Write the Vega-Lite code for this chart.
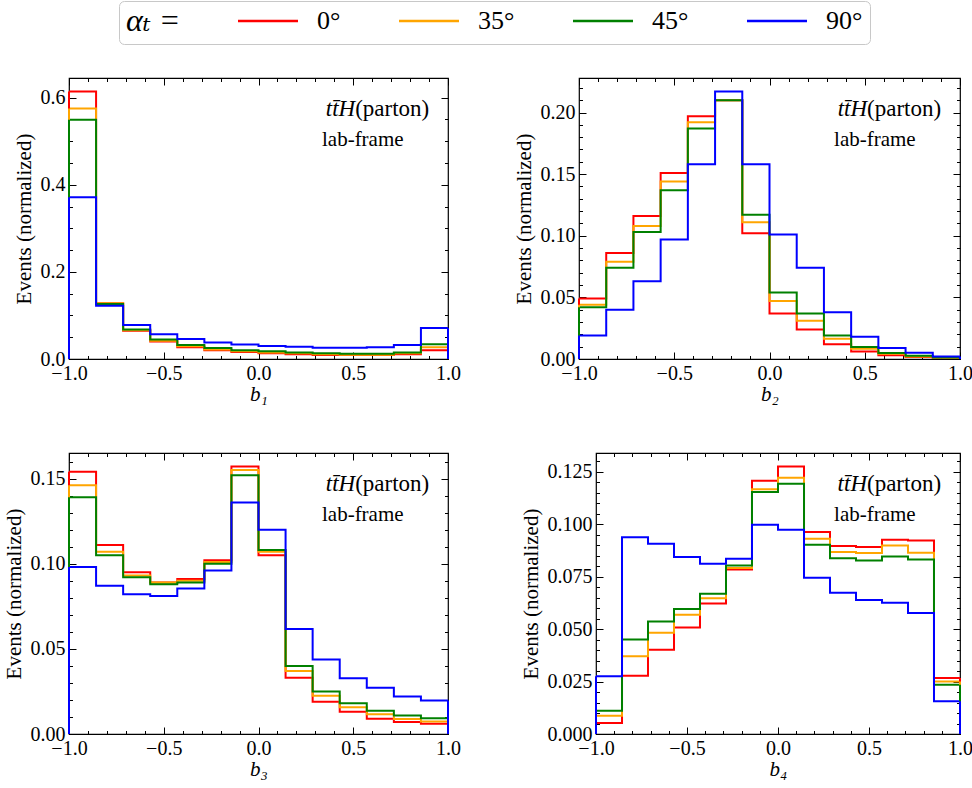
{
  "$schema": "https://vega.github.io/schema/vega-lite/v6.json",
  "padding": {"left": 2, "top": 0, "right": 0, "bottom": 0},
  "datasets": {
    "hist": [
      {"panel":"b1","alpha":"0°","lo":-1,"hi":-0.8571,"value":0.614},
      {"panel":"b1","alpha":"0°","lo":-0.8571,"hi":-0.7143,"value":0.128},
      {"panel":"b1","alpha":"0°","lo":-0.7143,"hi":-0.5714,"value":0.065},
      {"panel":"b1","alpha":"0°","lo":-0.5714,"hi":-0.4286,"value":0.040},
      {"panel":"b1","alpha":"0°","lo":-0.4286,"hi":-0.2857,"value":0.027},
      {"panel":"b1","alpha":"0°","lo":-0.2857,"hi":-0.1429,"value":0.020},
      {"panel":"b1","alpha":"0°","lo":-0.1429,"hi":0,"value":0.016},
      {"panel":"b1","alpha":"0°","lo":0,"hi":0.1429,"value":0.013},
      {"panel":"b1","alpha":"0°","lo":0.1429,"hi":0.2857,"value":0.011},
      {"panel":"b1","alpha":"0°","lo":0.2857,"hi":0.4286,"value":0.009},
      {"panel":"b1","alpha":"0°","lo":0.4286,"hi":0.5714,"value":0.009},
      {"panel":"b1","alpha":"0°","lo":0.5714,"hi":0.7143,"value":0.009},
      {"panel":"b1","alpha":"0°","lo":0.7143,"hi":0.8571,"value":0.011},
      {"panel":"b1","alpha":"0°","lo":0.8571,"hi":1,"value":0.020},
      {"panel":"b1","alpha":"35°","lo":-1,"hi":-0.8571,"value":0.575},
      {"panel":"b1","alpha":"35°","lo":-0.8571,"hi":-0.7143,"value":0.128},
      {"panel":"b1","alpha":"35°","lo":-0.7143,"hi":-0.5714,"value":0.066},
      {"panel":"b1","alpha":"35°","lo":-0.5714,"hi":-0.4286,"value":0.042},
      {"panel":"b1","alpha":"35°","lo":-0.4286,"hi":-0.2857,"value":0.029},
      {"panel":"b1","alpha":"35°","lo":-0.2857,"hi":-0.1429,"value":0.022},
      {"panel":"b1","alpha":"35°","lo":-0.1429,"hi":0,"value":0.018},
      {"panel":"b1","alpha":"35°","lo":0,"hi":0.1429,"value":0.015},
      {"panel":"b1","alpha":"35°","lo":0.1429,"hi":0.2857,"value":0.013},
      {"panel":"b1","alpha":"35°","lo":0.2857,"hi":0.4286,"value":0.011},
      {"panel":"b1","alpha":"35°","lo":0.4286,"hi":0.5714,"value":0.010},
      {"panel":"b1","alpha":"35°","lo":0.5714,"hi":0.7143,"value":0.010},
      {"panel":"b1","alpha":"35°","lo":0.7143,"hi":0.8571,"value":0.013},
      {"panel":"b1","alpha":"35°","lo":0.8571,"hi":1,"value":0.027},
      {"panel":"b1","alpha":"45°","lo":-1,"hi":-0.8571,"value":0.549},
      {"panel":"b1","alpha":"45°","lo":-0.8571,"hi":-0.7143,"value":0.126},
      {"panel":"b1","alpha":"45°","lo":-0.7143,"hi":-0.5714,"value":0.068},
      {"panel":"b1","alpha":"45°","lo":-0.5714,"hi":-0.4286,"value":0.045},
      {"panel":"b1","alpha":"45°","lo":-0.4286,"hi":-0.2857,"value":0.032},
      {"panel":"b1","alpha":"45°","lo":-0.2857,"hi":-0.1429,"value":0.025},
      {"panel":"b1","alpha":"45°","lo":-0.1429,"hi":0,"value":0.020},
      {"panel":"b1","alpha":"45°","lo":0,"hi":0.1429,"value":0.018},
      {"panel":"b1","alpha":"45°","lo":0.1429,"hi":0.2857,"value":0.015},
      {"panel":"b1","alpha":"45°","lo":0.2857,"hi":0.4286,"value":0.013},
      {"panel":"b1","alpha":"45°","lo":0.4286,"hi":0.5714,"value":0.012},
      {"panel":"b1","alpha":"45°","lo":0.5714,"hi":0.7143,"value":0.012},
      {"panel":"b1","alpha":"45°","lo":0.7143,"hi":0.8571,"value":0.015},
      {"panel":"b1","alpha":"45°","lo":0.8571,"hi":1,"value":0.034},
      {"panel":"b1","alpha":"90°","lo":-1,"hi":-0.8571,"value":0.371},
      {"panel":"b1","alpha":"90°","lo":-0.8571,"hi":-0.7143,"value":0.122},
      {"panel":"b1","alpha":"90°","lo":-0.7143,"hi":-0.5714,"value":0.078},
      {"panel":"b1","alpha":"90°","lo":-0.5714,"hi":-0.4286,"value":0.057},
      {"panel":"b1","alpha":"90°","lo":-0.4286,"hi":-0.2857,"value":0.046},
      {"panel":"b1","alpha":"90°","lo":-0.2857,"hi":-0.1429,"value":0.038},
      {"panel":"b1","alpha":"90°","lo":-0.1429,"hi":0,"value":0.033},
      {"panel":"b1","alpha":"90°","lo":0,"hi":0.1429,"value":0.030},
      {"panel":"b1","alpha":"90°","lo":0.1429,"hi":0.2857,"value":0.028},
      {"panel":"b1","alpha":"90°","lo":0.2857,"hi":0.4286,"value":0.026},
      {"panel":"b1","alpha":"90°","lo":0.4286,"hi":0.5714,"value":0.026},
      {"panel":"b1","alpha":"90°","lo":0.5714,"hi":0.7143,"value":0.027},
      {"panel":"b1","alpha":"90°","lo":0.7143,"hi":0.8571,"value":0.032},
      {"panel":"b1","alpha":"90°","lo":0.8571,"hi":1,"value":0.071},

      {"panel":"b2","alpha":"0°","lo":-1,"hi":-0.8571,"value":0.049},
      {"panel":"b2","alpha":"0°","lo":-0.8571,"hi":-0.7143,"value":0.086},
      {"panel":"b2","alpha":"0°","lo":-0.7143,"hi":-0.5714,"value":0.116},
      {"panel":"b2","alpha":"0°","lo":-0.5714,"hi":-0.4286,"value":0.151},
      {"panel":"b2","alpha":"0°","lo":-0.4286,"hi":-0.2857,"value":0.197},
      {"panel":"b2","alpha":"0°","lo":-0.2857,"hi":-0.1429,"value":0.210},
      {"panel":"b2","alpha":"0°","lo":-0.1429,"hi":0,"value":0.102},
      {"panel":"b2","alpha":"0°","lo":0,"hi":0.1429,"value":0.037},
      {"panel":"b2","alpha":"0°","lo":0.1429,"hi":0.2857,"value":0.024},
      {"panel":"b2","alpha":"0°","lo":0.2857,"hi":0.4286,"value":0.012},
      {"panel":"b2","alpha":"0°","lo":0.4286,"hi":0.5714,"value":0.006},
      {"panel":"b2","alpha":"0°","lo":0.5714,"hi":0.7143,"value":0.003},
      {"panel":"b2","alpha":"0°","lo":0.7143,"hi":0.8571,"value":0.0016},
      {"panel":"b2","alpha":"0°","lo":0.8571,"hi":1,"value":0.001},
      {"panel":"b2","alpha":"35°","lo":-1,"hi":-0.8571,"value":0.044},
      {"panel":"b2","alpha":"35°","lo":-0.8571,"hi":-0.7143,"value":0.079},
      {"panel":"b2","alpha":"35°","lo":-0.7143,"hi":-0.5714,"value":0.108},
      {"panel":"b2","alpha":"35°","lo":-0.5714,"hi":-0.4286,"value":0.144},
      {"panel":"b2","alpha":"35°","lo":-0.4286,"hi":-0.2857,"value":0.192},
      {"panel":"b2","alpha":"35°","lo":-0.2857,"hi":-0.1429,"value":0.210},
      {"panel":"b2","alpha":"35°","lo":-0.1429,"hi":0,"value":0.111},
      {"panel":"b2","alpha":"35°","lo":0,"hi":0.1429,"value":0.047},
      {"panel":"b2","alpha":"35°","lo":0.1429,"hi":0.2857,"value":0.031},
      {"panel":"b2","alpha":"35°","lo":0.2857,"hi":0.4286,"value":0.0165},
      {"panel":"b2","alpha":"35°","lo":0.4286,"hi":0.5714,"value":0.0084},
      {"panel":"b2","alpha":"35°","lo":0.5714,"hi":0.7143,"value":0.0043},
      {"panel":"b2","alpha":"35°","lo":0.7143,"hi":0.8571,"value":0.002},
      {"panel":"b2","alpha":"35°","lo":0.8571,"hi":1,"value":0.001},
      {"panel":"b2","alpha":"45°","lo":-1,"hi":-0.8571,"value":0.042},
      {"panel":"b2","alpha":"45°","lo":-0.8571,"hi":-0.7143,"value":0.074},
      {"panel":"b2","alpha":"45°","lo":-0.7143,"hi":-0.5714,"value":0.103},
      {"panel":"b2","alpha":"45°","lo":-0.5714,"hi":-0.4286,"value":0.137},
      {"panel":"b2","alpha":"45°","lo":-0.4286,"hi":-0.2857,"value":0.187},
      {"panel":"b2","alpha":"45°","lo":-0.2857,"hi":-0.1429,"value":0.210},
      {"panel":"b2","alpha":"45°","lo":-0.1429,"hi":0,"value":0.117},
      {"panel":"b2","alpha":"45°","lo":0,"hi":0.1429,"value":0.054},
      {"panel":"b2","alpha":"45°","lo":0.1429,"hi":0.2857,"value":0.037},
      {"panel":"b2","alpha":"45°","lo":0.2857,"hi":0.4286,"value":0.019},
      {"panel":"b2","alpha":"45°","lo":0.4286,"hi":0.5714,"value":0.0098},
      {"panel":"b2","alpha":"45°","lo":0.5714,"hi":0.7143,"value":0.0049},
      {"panel":"b2","alpha":"45°","lo":0.7143,"hi":0.8571,"value":0.0027},
      {"panel":"b2","alpha":"45°","lo":0.8571,"hi":1,"value":0.0012},
      {"panel":"b2","alpha":"90°","lo":-1,"hi":-0.8571,"value":0.019},
      {"panel":"b2","alpha":"90°","lo":-0.8571,"hi":-0.7143,"value":0.040},
      {"panel":"b2","alpha":"90°","lo":-0.7143,"hi":-0.5714,"value":0.063},
      {"panel":"b2","alpha":"90°","lo":-0.5714,"hi":-0.4286,"value":0.097},
      {"panel":"b2","alpha":"90°","lo":-0.4286,"hi":-0.2857,"value":0.158},
      {"panel":"b2","alpha":"90°","lo":-0.2857,"hi":-0.1429,"value":0.217},
      {"panel":"b2","alpha":"90°","lo":-0.1429,"hi":0,"value":0.158},
      {"panel":"b2","alpha":"90°","lo":0,"hi":0.1429,"value":0.101},
      {"panel":"b2","alpha":"90°","lo":0.1429,"hi":0.2857,"value":0.074},
      {"panel":"b2","alpha":"90°","lo":0.2857,"hi":0.4286,"value":0.038},
      {"panel":"b2","alpha":"90°","lo":0.4286,"hi":0.5714,"value":0.018},
      {"panel":"b2","alpha":"90°","lo":0.5714,"hi":0.7143,"value":0.009},
      {"panel":"b2","alpha":"90°","lo":0.7143,"hi":0.8571,"value":0.005},
      {"panel":"b2","alpha":"90°","lo":0.8571,"hi":1,"value":0.002},

      {"panel":"b3","alpha":"0°","lo":-1,"hi":-0.8571,"value":0.154},
      {"panel":"b3","alpha":"0°","lo":-0.8571,"hi":-0.7143,"value":0.111},
      {"panel":"b3","alpha":"0°","lo":-0.7143,"hi":-0.5714,"value":0.095},
      {"panel":"b3","alpha":"0°","lo":-0.5714,"hi":-0.4286,"value":0.089},
      {"panel":"b3","alpha":"0°","lo":-0.4286,"hi":-0.2857,"value":0.091},
      {"panel":"b3","alpha":"0°","lo":-0.2857,"hi":-0.1429,"value":0.102},
      {"panel":"b3","alpha":"0°","lo":-0.1429,"hi":0,"value":0.157},
      {"panel":"b3","alpha":"0°","lo":0,"hi":0.1429,"value":0.105},
      {"panel":"b3","alpha":"0°","lo":0.1429,"hi":0.2857,"value":0.033},
      {"panel":"b3","alpha":"0°","lo":0.2857,"hi":0.4286,"value":0.019},
      {"panel":"b3","alpha":"0°","lo":0.4286,"hi":0.5714,"value":0.013},
      {"panel":"b3","alpha":"0°","lo":0.5714,"hi":0.7143,"value":0.009},
      {"panel":"b3","alpha":"0°","lo":0.7143,"hi":0.8571,"value":0.007},
      {"panel":"b3","alpha":"0°","lo":0.8571,"hi":1,"value":0.006},
      {"panel":"b3","alpha":"35°","lo":-1,"hi":-0.8571,"value":0.146},
      {"panel":"b3","alpha":"35°","lo":-0.8571,"hi":-0.7143,"value":0.107},
      {"panel":"b3","alpha":"35°","lo":-0.7143,"hi":-0.5714,"value":0.093},
      {"panel":"b3","alpha":"35°","lo":-0.5714,"hi":-0.4286,"value":0.089},
      {"panel":"b3","alpha":"35°","lo":-0.4286,"hi":-0.2857,"value":0.090},
      {"panel":"b3","alpha":"35°","lo":-0.2857,"hi":-0.1429,"value":0.101},
      {"panel":"b3","alpha":"35°","lo":-0.1429,"hi":0,"value":0.155},
      {"panel":"b3","alpha":"35°","lo":0,"hi":0.1429,"value":0.107},
      {"panel":"b3","alpha":"35°","lo":0.1429,"hi":0.2857,"value":0.037},
      {"panel":"b3","alpha":"35°","lo":0.2857,"hi":0.4286,"value":0.0225},
      {"panel":"b3","alpha":"35°","lo":0.4286,"hi":0.5714,"value":0.0157},
      {"panel":"b3","alpha":"35°","lo":0.5714,"hi":0.7143,"value":0.0116},
      {"panel":"b3","alpha":"35°","lo":0.7143,"hi":0.8571,"value":0.0088},
      {"panel":"b3","alpha":"35°","lo":0.8571,"hi":1,"value":0.0073},
      {"panel":"b3","alpha":"45°","lo":-1,"hi":-0.8571,"value":0.139},
      {"panel":"b3","alpha":"45°","lo":-0.8571,"hi":-0.7143,"value":0.105},
      {"panel":"b3","alpha":"45°","lo":-0.7143,"hi":-0.5714,"value":0.092},
      {"panel":"b3","alpha":"45°","lo":-0.5714,"hi":-0.4286,"value":0.088},
      {"panel":"b3","alpha":"45°","lo":-0.4286,"hi":-0.2857,"value":0.089},
      {"panel":"b3","alpha":"45°","lo":-0.2857,"hi":-0.1429,"value":0.100},
      {"panel":"b3","alpha":"45°","lo":-0.1429,"hi":0,"value":0.152},
      {"panel":"b3","alpha":"45°","lo":0,"hi":0.1429,"value":0.108},
      {"panel":"b3","alpha":"45°","lo":0.1429,"hi":0.2857,"value":0.040},
      {"panel":"b3","alpha":"45°","lo":0.2857,"hi":0.4286,"value":0.025},
      {"panel":"b3","alpha":"45°","lo":0.4286,"hi":0.5714,"value":0.018},
      {"panel":"b3","alpha":"45°","lo":0.5714,"hi":0.7143,"value":0.0137},
      {"panel":"b3","alpha":"45°","lo":0.7143,"hi":0.8571,"value":0.0108},
      {"panel":"b3","alpha":"45°","lo":0.8571,"hi":1,"value":0.0092},
      {"panel":"b3","alpha":"90°","lo":-1,"hi":-0.8571,"value":0.098},
      {"panel":"b3","alpha":"90°","lo":-0.8571,"hi":-0.7143,"value":0.087},
      {"panel":"b3","alpha":"90°","lo":-0.7143,"hi":-0.5714,"value":0.082},
      {"panel":"b3","alpha":"90°","lo":-0.5714,"hi":-0.4286,"value":0.081},
      {"panel":"b3","alpha":"90°","lo":-0.4286,"hi":-0.2857,"value":0.0855},
      {"panel":"b3","alpha":"90°","lo":-0.2857,"hi":-0.1429,"value":0.096},
      {"panel":"b3","alpha":"90°","lo":-0.1429,"hi":0,"value":0.136},
      {"panel":"b3","alpha":"90°","lo":0,"hi":0.1429,"value":0.120},
      {"panel":"b3","alpha":"90°","lo":0.1429,"hi":0.2857,"value":0.0616},
      {"panel":"b3","alpha":"90°","lo":0.2857,"hi":0.4286,"value":0.0437},
      {"panel":"b3","alpha":"90°","lo":0.4286,"hi":0.5714,"value":0.0327},
      {"panel":"b3","alpha":"90°","lo":0.5714,"hi":0.7143,"value":0.0271},
      {"panel":"b3","alpha":"90°","lo":0.7143,"hi":0.8571,"value":0.022},
      {"panel":"b3","alpha":"90°","lo":0.8571,"hi":1,"value":0.0196},

      {"panel":"b4","alpha":"0°","lo":-1,"hi":-0.8571,"value":0.0052},
      {"panel":"b4","alpha":"0°","lo":-0.8571,"hi":-0.7143,"value":0.0278},
      {"panel":"b4","alpha":"0°","lo":-0.7143,"hi":-0.5714,"value":0.0402},
      {"panel":"b4","alpha":"0°","lo":-0.5714,"hi":-0.4286,"value":0.0507},
      {"panel":"b4","alpha":"0°","lo":-0.4286,"hi":-0.2857,"value":0.0622},
      {"panel":"b4","alpha":"0°","lo":-0.2857,"hi":-0.1429,"value":0.0784},
      {"panel":"b4","alpha":"0°","lo":-0.1429,"hi":0,"value":0.1207},
      {"panel":"b4","alpha":"0°","lo":0,"hi":0.1429,"value":0.1275},
      {"panel":"b4","alpha":"0°","lo":0.1429,"hi":0.2857,"value":0.0962},
      {"panel":"b4","alpha":"0°","lo":0.2857,"hi":0.4286,"value":0.0896},
      {"panel":"b4","alpha":"0°","lo":0.4286,"hi":0.5714,"value":0.0891},
      {"panel":"b4","alpha":"0°","lo":0.5714,"hi":0.7143,"value":0.0926},
      {"panel":"b4","alpha":"0°","lo":0.7143,"hi":0.8571,"value":0.0922},
      {"panel":"b4","alpha":"0°","lo":0.8571,"hi":1,"value":0.0267},
      {"panel":"b4","alpha":"35°","lo":-1,"hi":-0.8571,"value":0.0087},
      {"panel":"b4","alpha":"35°","lo":-0.8571,"hi":-0.7143,"value":0.037},
      {"panel":"b4","alpha":"35°","lo":-0.7143,"hi":-0.5714,"value":0.0482},
      {"panel":"b4","alpha":"35°","lo":-0.5714,"hi":-0.4286,"value":0.0568},
      {"panel":"b4","alpha":"35°","lo":-0.4286,"hi":-0.2857,"value":0.0647},
      {"panel":"b4","alpha":"35°","lo":-0.2857,"hi":-0.1429,"value":0.0791},
      {"panel":"b4","alpha":"35°","lo":-0.1429,"hi":0,"value":0.1166},
      {"panel":"b4","alpha":"35°","lo":0,"hi":0.1429,"value":0.1221},
      {"panel":"b4","alpha":"35°","lo":0.1429,"hi":0.2857,"value":0.093},
      {"panel":"b4","alpha":"35°","lo":0.2857,"hi":0.4286,"value":0.0867},
      {"panel":"b4","alpha":"35°","lo":0.4286,"hi":0.5714,"value":0.0862},
      {"panel":"b4","alpha":"35°","lo":0.5714,"hi":0.7143,"value":0.0898},
      {"panel":"b4","alpha":"35°","lo":0.7143,"hi":0.8571,"value":0.0864},
      {"panel":"b4","alpha":"35°","lo":0.8571,"hi":1,"value":0.025},
      {"panel":"b4","alpha":"45°","lo":-1,"hi":-0.8571,"value":0.0111},
      {"panel":"b4","alpha":"45°","lo":-0.8571,"hi":-0.7143,"value":0.045},
      {"panel":"b4","alpha":"45°","lo":-0.7143,"hi":-0.5714,"value":0.0536},
      {"panel":"b4","alpha":"45°","lo":-0.5714,"hi":-0.4286,"value":0.0596},
      {"panel":"b4","alpha":"45°","lo":-0.4286,"hi":-0.2857,"value":0.0668},
      {"panel":"b4","alpha":"45°","lo":-0.2857,"hi":-0.1429,"value":0.0803},
      {"panel":"b4","alpha":"45°","lo":-0.1429,"hi":0,"value":0.1153},
      {"panel":"b4","alpha":"45°","lo":0,"hi":0.1429,"value":0.1193},
      {"panel":"b4","alpha":"45°","lo":0.1429,"hi":0.2857,"value":0.0902},
      {"panel":"b4","alpha":"45°","lo":0.2857,"hi":0.4286,"value":0.0838},
      {"panel":"b4","alpha":"45°","lo":0.4286,"hi":0.5714,"value":0.0827},
      {"panel":"b4","alpha":"45°","lo":0.5714,"hi":0.7143,"value":0.0846},
      {"panel":"b4","alpha":"45°","lo":0.7143,"hi":0.8571,"value":0.0832},
      {"panel":"b4","alpha":"45°","lo":0.8571,"hi":1,"value":0.0235},
      {"panel":"b4","alpha":"90°","lo":-1,"hi":-0.8571,"value":0.0275},
      {"panel":"b4","alpha":"90°","lo":-0.8571,"hi":-0.7143,"value":0.0938},
      {"panel":"b4","alpha":"90°","lo":-0.7143,"hi":-0.5714,"value":0.0906},
      {"panel":"b4","alpha":"90°","lo":-0.5714,"hi":-0.4286,"value":0.0843},
      {"panel":"b4","alpha":"90°","lo":-0.4286,"hi":-0.2857,"value":0.0811},
      {"panel":"b4","alpha":"90°","lo":-0.2857,"hi":-0.1429,"value":0.0835},
      {"panel":"b4","alpha":"90°","lo":-0.1429,"hi":0,"value":0.0997},
      {"panel":"b4","alpha":"90°","lo":0,"hi":0.1429,"value":0.0973},
      {"panel":"b4","alpha":"90°","lo":0.1429,"hi":0.2857,"value":0.0744},
      {"panel":"b4","alpha":"90°","lo":0.2857,"hi":0.4286,"value":0.0673},
      {"panel":"b4","alpha":"90°","lo":0.4286,"hi":0.5714,"value":0.0639},
      {"panel":"b4","alpha":"90°","lo":0.5714,"hi":0.7143,"value":0.0625},
      {"panel":"b4","alpha":"90°","lo":0.7143,"hi":0.8571,"value":0.0577},
      {"panel":"b4","alpha":"90°","lo":0.8571,"hi":1,"value":0.0156}
    ]
  },
  "data": {"name": "hist"},
  "config": {
    "font": "Liberation Serif, DejaVu Serif, serif",
    "view": {"stroke": "black", "strokeWidth": 1.2},
    "axis": {
      "labelFont": "Liberation Serif, DejaVu Serif, serif", "labelFontSize": 20, "labelColor": "black",
      "titleFont": "Liberation Serif, DejaVu Serif, serif", "titleFontSize": 21, "titleFontWeight": "normal", "titleColor": "black",
      "domain": false, "grid": false, "tickColor": "black", "tickSize": -7, "tickWidth": 1,
      "labelPadding": 11, "titlePadding": 6, "labelFlush": false, "labelOverlap": false
    },
    "axisX": {"titlePadding": 0},
    "legend": {
      "orient": "none", "legendX": 50, "legendY": -77, "direction": "horizontal",
      "titleOrient": "left", "titleAnchor": "middle", "titleBaseline": "middle",
      "titleFont": "Liberation Serif, DejaVu Serif, serif", "titleFontSize": 32, "titleFontStyle": "italic",
      "titleFontWeight": "normal", "titleColor": "black", "titlePadding": 74,
      "labelFont": "Liberation Serif, DejaVu Serif, serif", "labelFontSize": 26, "labelColor": "black", "labelOffset": 36,
      "symbolType": "M-3,0H3", "symbolSize": 400, "symbolStrokeWidth": 2.5, "columnPadding": 53,
      "padding": 7, "fillColor": "white", "strokeColor": "#c8c8c8", "cornerRadius": 5
    },
    "text": {"font": "Liberation Serif, DejaVu Serif, serif", "color": "black"}
  },
  "resolve": {"scale": {"color": "shared"}, "legend": {"color": "shared"}},
  "spacing": 46,
  "vconcat": [
    {
      "spacing": 50,
      "resolve": {"scale": {"color": "shared"}, "legend": {"color": "shared"}},
      "hconcat": [
        {
          "width": 379, "height": 281,
          "transform": [{"filter": "datum.panel == 'b1'"}],
          "layer": [
            {
              "transform": [{"fold": ["lo", "hi"], "as": ["edge", "x"]}],
              "mark": {"type": "line", "strokeWidth": 2},
              "encoding": {
                "x": {"field": "x", "type": "quantitative", "scale": {"domain": [-1, 1], "nice": false, "zero": false},
                      "axis": {"orient": "bottom", "values": [-1, -0.5, 0, 0.5, 1], "format": ".1f", "title": "b₁", "titleFontStyle": "italic"}},
                "y": {"field": "value", "type": "quantitative", "scale": {"domain": [0, 0.645], "nice": false, "zero": false},
                      "axis": {"orient": "left", "values": [0, 0.2, 0.4, 0.6], "format": ".1f", "title": "Events (normalized)"}},
                "color": {"field": "alpha", "type": "nominal", "title": "αₜ =",
                          "scale": {"domain": ["0°", "35°", "45°", "90°"], "range": ["#ff0000", "#ffa500", "#008000", "#0000ff"]}}
              }
            },
            {
              "transform": [{"filter": "datum.lo == -1"}],
              "mark": {"type": "rule", "strokeWidth": 2},
              "encoding": {
                "x": {"field": "lo", "type": "quantitative", "axis": {"orient": "top", "values": [-1, -0.5, 0, 0.5, 1], "labels": false, "title": null}},
                "y": {"field": "value", "type": "quantitative", "axis": {"orient": "right", "values": [0, 0.2, 0.4, 0.6], "labels": false, "title": null}},
                "y2": {"datum": 0},
                "color": {"field": "alpha", "type": "nominal", "title": "αₜ =",
                          "scale": {"domain": ["0°", "35°", "45°", "90°"], "range": ["#ff0000", "#ffa500", "#008000", "#0000ff"]}}
              }
            },
            {
              "transform": [{"filter": "datum.hi == 1"}],
              "mark": {"type": "rule", "strokeWidth": 2},
              "encoding": {
                "x": {"field": "hi", "type": "quantitative", "axis": {"orient": "bottom", "values": [-0.9,-0.8,-0.7,-0.6,-0.4,-0.3,-0.2,-0.1,0.1,0.2,0.3,0.4,0.6,0.7,0.8,0.9], "labels": false, "title": null, "tickSize": -3.5}},
                "y": {"field": "value", "type": "quantitative", "axis": {"orient": "left", "values": [0.05,0.1,0.15,0.25,0.3,0.35,0.45,0.5,0.55], "labels": false, "title": null, "tickSize": -3.5}},
                "y2": {"datum": 0},
                "color": {"field": "alpha", "type": "nominal", "title": "αₜ =",
                          "scale": {"domain": ["0°", "35°", "45°", "90°"], "range": ["#ff0000", "#ffa500", "#008000", "#0000ff"]}}
              }
            },
            {
              "data": {"values": [{}]},
              "mark": {"type": "text", "align": "right", "baseline": "alphabetic", "fontStyle": "italic", "fontSize": 23},
              "encoding": {
                "x": {"datum": 0.51, "type": "quantitative", "axis": {"orient": "top", "values": [-0.9,-0.8,-0.7,-0.6,-0.4,-0.3,-0.2,-0.1,0.1,0.2,0.3,0.4,0.6,0.7,0.8,0.9], "labels": false, "title": null, "tickSize": -3.5}},
                "y": {"datum": 0.5585, "type": "quantitative", "axis": {"orient": "right", "values": [0.05,0.1,0.15,0.25,0.3,0.35,0.45,0.5,0.55], "labels": false, "title": null, "tickSize": -3.5}},
                "text": {"value": "tt̄H"}
              }
            },
            {
              "data": {"values": [{}]},
              "mark": {"type": "text", "align": "left", "baseline": "alphabetic", "fontSize": 23},
              "encoding": {
                "x": {"datum": 0.51, "type": "quantitative", "axis": null},
                "y": {"datum": 0.5585, "type": "quantitative", "axis": null},
                "text": {"value": "(parton)"}
              }
            },
            {
              "data": {"values": [{}]},
              "mark": {"type": "text", "align": "left", "baseline": "alphabetic", "fontSize": 21},
              "encoding": {
                "x": {"datum": 0.335, "type": "quantitative", "axis": null},
                "y": {"datum": 0.489, "type": "quantitative", "axis": null},
                "text": {"value": "lab-frame"}
              }
            }
          ]
        },
        {
          "width": 381, "height": 281,
          "transform": [{"filter": "datum.panel == 'b2'"}],
          "layer": [
            {
              "transform": [{"fold": ["lo", "hi"], "as": ["edge", "x"]}],
              "mark": {"type": "line", "strokeWidth": 2},
              "encoding": {
                "x": {"field": "x", "type": "quantitative", "scale": {"domain": [-1, 1], "nice": false, "zero": false},
                      "axis": {"orient": "bottom", "values": [-1, -0.5, 0, 0.5, 1], "format": ".1f", "title": "b₂", "titleFontStyle": "italic"}},
                "y": {"field": "value", "type": "quantitative", "scale": {"domain": [0, 0.228], "nice": false, "zero": false},
                      "axis": {"orient": "left", "values": [0, 0.05, 0.1, 0.15, 0.2], "format": ".2f", "title": "Events (normalized)"}},
                "color": {"field": "alpha", "type": "nominal", "title": "αₜ =",
                          "scale": {"domain": ["0°", "35°", "45°", "90°"], "range": ["#ff0000", "#ffa500", "#008000", "#0000ff"]}}
              }
            },
            {
              "transform": [{"filter": "datum.lo == -1"}],
              "mark": {"type": "rule", "strokeWidth": 2},
              "encoding": {
                "x": {"field": "lo", "type": "quantitative", "axis": {"orient": "top", "values": [-1, -0.5, 0, 0.5, 1], "labels": false, "title": null}},
                "y": {"field": "value", "type": "quantitative", "axis": {"orient": "right", "values": [0, 0.05, 0.1, 0.15, 0.2], "labels": false, "title": null}},
                "y2": {"datum": 0},
                "color": {"field": "alpha", "type": "nominal", "title": "αₜ =",
                          "scale": {"domain": ["0°", "35°", "45°", "90°"], "range": ["#ff0000", "#ffa500", "#008000", "#0000ff"]}}
              }
            },
            {
              "transform": [{"filter": "datum.hi == 1"}],
              "mark": {"type": "rule", "strokeWidth": 2},
              "encoding": {
                "x": {"field": "hi", "type": "quantitative", "axis": {"orient": "bottom", "values": [-0.9,-0.8,-0.7,-0.6,-0.4,-0.3,-0.2,-0.1,0.1,0.2,0.3,0.4,0.6,0.7,0.8,0.9], "labels": false, "title": null, "tickSize": -3.5}},
                "y": {"field": "value", "type": "quantitative", "axis": {"orient": "left", "values": [0.01,0.02,0.03,0.04,0.06,0.07,0.08,0.09,0.11,0.12,0.13,0.14,0.16,0.17,0.18,0.19,0.21,0.22], "labels": false, "title": null, "tickSize": -3.5}},
                "y2": {"datum": 0},
                "color": {"field": "alpha", "type": "nominal", "title": "αₜ =",
                          "scale": {"domain": ["0°", "35°", "45°", "90°"], "range": ["#ff0000", "#ffa500", "#008000", "#0000ff"]}}
              }
            },
            {
              "data": {"values": [{}]},
              "mark": {"type": "text", "align": "right", "baseline": "alphabetic", "fontStyle": "italic", "fontSize": 23},
              "encoding": {
                "x": {"datum": 0.512, "type": "quantitative", "axis": {"orient": "top", "values": [-0.9,-0.8,-0.7,-0.6,-0.4,-0.3,-0.2,-0.1,0.1,0.2,0.3,0.4,0.6,0.7,0.8,0.9], "labels": false, "title": null, "tickSize": -3.5}},
                "y": {"datum": 0.1974, "type": "quantitative", "axis": {"orient": "right", "values": [0.01,0.02,0.03,0.04,0.06,0.07,0.08,0.09,0.11,0.12,0.13,0.14,0.16,0.17,0.18,0.19,0.21,0.22], "labels": false, "title": null, "tickSize": -3.5}},
                "text": {"value": "tt̄H"}
              }
            },
            {
              "data": {"values": [{}]},
              "mark": {"type": "text", "align": "left", "baseline": "alphabetic", "fontSize": 23},
              "encoding": {
                "x": {"datum": 0.512, "type": "quantitative", "axis": null},
                "y": {"datum": 0.1974, "type": "quantitative", "axis": null},
                "text": {"value": "(parton)"}
              }
            },
            {
              "data": {"values": [{}]},
              "mark": {"type": "text", "align": "left", "baseline": "alphabetic", "fontSize": 21},
              "encoding": {
                "x": {"datum": 0.339, "type": "quantitative", "axis": null},
                "y": {"datum": 0.1728, "type": "quantitative", "axis": null},
                "text": {"value": "lab-frame"}
              }
            }
          ]
        }
      ]
    },
    {
      "spacing": 57,
      "resolve": {"scale": {"color": "shared"}, "legend": {"color": "shared"}},
      "hconcat": [
        {
          "width": 379, "height": 281,
          "transform": [{"filter": "datum.panel == 'b3'"}],
          "layer": [
            {
              "transform": [{"fold": ["lo", "hi"], "as": ["edge", "x"]}],
              "mark": {"type": "line", "strokeWidth": 2},
              "encoding": {
                "x": {"field": "x", "type": "quantitative", "scale": {"domain": [-1, 1], "nice": false, "zero": false},
                      "axis": {"orient": "bottom", "values": [-1, -0.5, 0, 0.5, 1], "format": ".1f", "title": "b₃", "titleFontStyle": "italic"}},
                "y": {"field": "value", "type": "quantitative", "scale": {"domain": [0, 0.165], "nice": false, "zero": false},
                      "axis": {"orient": "left", "values": [0, 0.05, 0.1, 0.15], "format": ".2f", "title": "Events (normalized)"}},
                "color": {"field": "alpha", "type": "nominal", "title": "αₜ =",
                          "scale": {"domain": ["0°", "35°", "45°", "90°"], "range": ["#ff0000", "#ffa500", "#008000", "#0000ff"]}}
              }
            },
            {
              "transform": [{"filter": "datum.lo == -1"}],
              "mark": {"type": "rule", "strokeWidth": 2},
              "encoding": {
                "x": {"field": "lo", "type": "quantitative", "axis": {"orient": "top", "values": [-1, -0.5, 0, 0.5, 1], "labels": false, "title": null}},
                "y": {"field": "value", "type": "quantitative", "axis": {"orient": "right", "values": [0, 0.05, 0.1, 0.15], "labels": false, "title": null}},
                "y2": {"datum": 0},
                "color": {"field": "alpha", "type": "nominal", "title": "αₜ =",
                          "scale": {"domain": ["0°", "35°", "45°", "90°"], "range": ["#ff0000", "#ffa500", "#008000", "#0000ff"]}}
              }
            },
            {
              "transform": [{"filter": "datum.hi == 1"}],
              "mark": {"type": "rule", "strokeWidth": 2},
              "encoding": {
                "x": {"field": "hi", "type": "quantitative", "axis": {"orient": "bottom", "values": [-0.9,-0.8,-0.7,-0.6,-0.4,-0.3,-0.2,-0.1,0.1,0.2,0.3,0.4,0.6,0.7,0.8,0.9], "labels": false, "title": null, "tickSize": -3.5}},
                "y": {"field": "value", "type": "quantitative", "axis": {"orient": "left", "values": [0.01,0.02,0.03,0.04,0.06,0.07,0.08,0.09,0.11,0.12,0.13,0.14,0.16], "labels": false, "title": null, "tickSize": -3.5}},
                "y2": {"datum": 0},
                "color": {"field": "alpha", "type": "nominal", "title": "αₜ =",
                          "scale": {"domain": ["0°", "35°", "45°", "90°"], "range": ["#ff0000", "#ffa500", "#008000", "#0000ff"]}}
              }
            },
            {
              "data": {"values": [{}]},
              "mark": {"type": "text", "align": "right", "baseline": "alphabetic", "fontStyle": "italic", "fontSize": 23},
              "encoding": {
                "x": {"datum": 0.51, "type": "quantitative", "axis": {"orient": "top", "values": [-0.9,-0.8,-0.7,-0.6,-0.4,-0.3,-0.2,-0.1,0.1,0.2,0.3,0.4,0.6,0.7,0.8,0.9], "labels": false, "title": null, "tickSize": -3.5}},
                "y": {"datum": 0.1429, "type": "quantitative", "axis": {"orient": "right", "values": [0.01,0.02,0.03,0.04,0.06,0.07,0.08,0.09,0.11,0.12,0.13,0.14,0.16], "labels": false, "title": null, "tickSize": -3.5}},
                "text": {"value": "tt̄H"}
              }
            },
            {
              "data": {"values": [{}]},
              "mark": {"type": "text", "align": "left", "baseline": "alphabetic", "fontSize": 23},
              "encoding": {
                "x": {"datum": 0.51, "type": "quantitative", "axis": null},
                "y": {"datum": 0.1429, "type": "quantitative", "axis": null},
                "text": {"value": "(parton)"}
              }
            },
            {
              "data": {"values": [{}]},
              "mark": {"type": "text", "align": "left", "baseline": "alphabetic", "fontSize": 21},
              "encoding": {
                "x": {"datum": 0.335, "type": "quantitative", "axis": null},
                "y": {"datum": 0.1251, "type": "quantitative", "axis": null},
                "text": {"value": "lab-frame"}
              }
            }
          ]
        },
        {
          "width": 364, "height": 281,
          "transform": [{"filter": "datum.panel == 'b4'"}],
          "layer": [
            {
              "transform": [{"fold": ["lo", "hi"], "as": ["edge", "x"]}],
              "mark": {"type": "line", "strokeWidth": 2},
              "encoding": {
                "x": {"field": "x", "type": "quantitative", "scale": {"domain": [-1, 1], "nice": false, "zero": false},
                      "axis": {"orient": "bottom", "values": [-1, -0.5, 0, 0.5, 1], "format": ".1f", "title": "b₄", "titleFontStyle": "italic"}},
                "y": {"field": "value", "type": "quantitative", "scale": {"domain": [0, 0.1339], "nice": false, "zero": false},
                      "axis": {"orient": "left", "values": [0, 0.025, 0.05, 0.075, 0.1, 0.125], "format": ".3f", "title": "Events (normalized)"}},
                "color": {"field": "alpha", "type": "nominal", "title": "αₜ =",
                          "scale": {"domain": ["0°", "35°", "45°", "90°"], "range": ["#ff0000", "#ffa500", "#008000", "#0000ff"]}}
              }
            },
            {
              "transform": [{"filter": "datum.lo == -1"}],
              "mark": {"type": "rule", "strokeWidth": 2},
              "encoding": {
                "x": {"field": "lo", "type": "quantitative", "axis": {"orient": "top", "values": [-1, -0.5, 0, 0.5, 1], "labels": false, "title": null}},
                "y": {"field": "value", "type": "quantitative", "axis": {"orient": "right", "values": [0, 0.025, 0.05, 0.075, 0.1, 0.125], "labels": false, "title": null}},
                "y2": {"datum": 0},
                "color": {"field": "alpha", "type": "nominal", "title": "αₜ =",
                          "scale": {"domain": ["0°", "35°", "45°", "90°"], "range": ["#ff0000", "#ffa500", "#008000", "#0000ff"]}}
              }
            },
            {
              "transform": [{"filter": "datum.hi == 1"}],
              "mark": {"type": "rule", "strokeWidth": 2},
              "encoding": {
                "x": {"field": "hi", "type": "quantitative", "axis": {"orient": "bottom", "values": [-0.9,-0.8,-0.7,-0.6,-0.4,-0.3,-0.2,-0.1,0.1,0.2,0.3,0.4,0.6,0.7,0.8,0.9], "labels": false, "title": null, "tickSize": -3.5}},
                "y": {"field": "value", "type": "quantitative", "axis": {"orient": "left", "values": [0.005,0.01,0.015,0.02,0.03,0.035,0.04,0.045,0.055,0.06,0.065,0.07,0.08,0.085,0.09,0.095,0.105,0.11,0.115,0.12,0.13], "labels": false, "title": null, "tickSize": -3.5}},
                "y2": {"datum": 0},
                "color": {"field": "alpha", "type": "nominal", "title": "αₜ =",
                          "scale": {"domain": ["0°", "35°", "45°", "90°"], "range": ["#ff0000", "#ffa500", "#008000", "#0000ff"]}}
              }
            },
            {
              "data": {"values": [{}]},
              "mark": {"type": "text", "align": "right", "baseline": "alphabetic", "fontStyle": "italic", "fontSize": 23},
              "encoding": {
                "x": {"datum": 0.489, "type": "quantitative", "axis": {"orient": "top", "values": [-0.9,-0.8,-0.7,-0.6,-0.4,-0.3,-0.2,-0.1,0.1,0.2,0.3,0.4,0.6,0.7,0.8,0.9], "labels": false, "title": null, "tickSize": -3.5}},
                "y": {"datum": 0.116, "type": "quantitative", "axis": {"orient": "right", "values": [0.005,0.01,0.015,0.02,0.03,0.035,0.04,0.045,0.055,0.06,0.065,0.07,0.08,0.085,0.09,0.095,0.105,0.11,0.115,0.12,0.13], "labels": false, "title": null, "tickSize": -3.5}},
                "text": {"value": "tt̄H"}
              }
            },
            {
              "data": {"values": [{}]},
              "mark": {"type": "text", "align": "left", "baseline": "alphabetic", "fontSize": 23},
              "encoding": {
                "x": {"datum": 0.489, "type": "quantitative", "axis": null},
                "y": {"datum": 0.116, "type": "quantitative", "axis": null},
                "text": {"value": "(parton)"}
              }
            },
            {
              "data": {"values": [{}]},
              "mark": {"type": "text", "align": "left", "baseline": "alphabetic", "fontSize": 21},
              "encoding": {
                "x": {"datum": 0.308, "type": "quantitative", "axis": null},
                "y": {"datum": 0.1015, "type": "quantitative", "axis": null},
                "text": {"value": "lab-frame"}
              }
            }
          ]
        }
      ]
    }
  ]
}
